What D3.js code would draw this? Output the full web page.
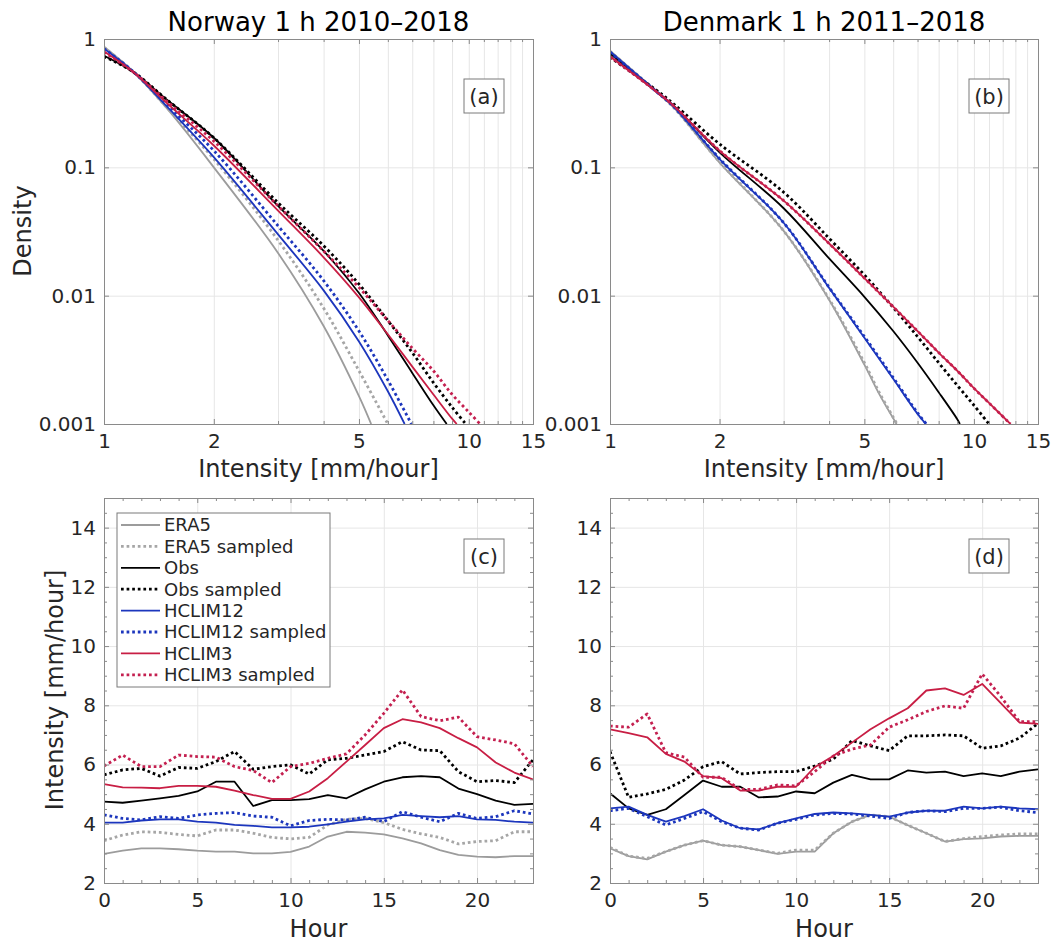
<!DOCTYPE html>
<html><head><meta charset="utf-8">
<script src="https://cdn.jsdelivr.net/npm/d3@7"></script>
<style>
body{margin:0;background:#fff}
text{font-family:"DejaVu Sans",sans-serif}
</style>
</head><body><svg id="c" width="1056" height="943"></svg>
<script>
// ---------------- DATA ----------------
const seriesNames = ["ERA5","ERA5 sampled","Obs","Obs sampled","HCLIM12","HCLIM12 sampled","HCLIM3","HCLIM3 sampled"];
const panelTitles = ["Norway 1 h 2010\u20132018","Denmark 1 h 2011\u20132018"];
const panelTags = ["(a)","(b)","(c)","(d)"];

// (a) Norway density vs intensity  [intensity mm/h, density]
const norPdfERA5   = [[1,0.87],[1.2,0.56],[1.5,0.28],[2,0.10],[3,0.0215],[4,0.0058],[5,0.00165],[5.4,0.001]];
const norPdfERA5s  = [[1,0.86],[1.2,0.56],[1.5,0.285],[2,0.116],[3,0.027],[4,0.0080],[5,0.0026],[6.0,0.001]];
const norPdfObs    = [[1,0.74],[1.2,0.556],[1.5,0.33],[2,0.17],[3,0.050],[4,0.0223],[5,0.0105],[6,0.0049],[7,0.0025],[8,0.0014],[8.7,0.001]];
const norPdfObsS   = [[1,0.73],[1.2,0.556],[1.5,0.33],[2,0.17],[3,0.053],[4,0.0245],[5,0.0123],[6,0.0064],[7,0.0036],[8,0.0021],[9,0.00135],[9.81,0.001]];
const norPdfH12    = [[1,0.84],[1.2,0.56],[1.5,0.29],[2,0.12],[3,0.030],[4,0.011],[5,0.0044],[6,0.0018],[6.67,0.001]];
const norPdfH12S   = [[1,0.84],[1.2,0.56],[1.5,0.30],[2,0.135],[3,0.035],[4,0.0131],[5,0.0053],[6,0.0022],[6.96,0.001]];
const norPdfH3     = [[1,0.80],[1.2,0.556],[1.5,0.31],[2,0.148],[3,0.046],[4,0.0199],[5,0.0097],[6,0.0050],[7,0.0028],[8,0.0017],[9,0.0011],[9.27,0.001]];
const norPdfH3S    = [[1,0.79],[1.2,0.556],[1.5,0.32],[2,0.16],[3,0.050],[4,0.0223],[5,0.0116],[6,0.0064],[7,0.0039],[8,0.0026],[9,0.0017],[10,0.00124],[10.74,0.001]];

// (b) Denmark density vs intensity
const denPdfERA5   = [[1,0.81],[1.34,0.39],[1.5,0.29],[2,0.109],[3,0.032],[4,0.0093],[5,0.0029],[5.5,0.0017],[6.13,0.001]];
const denPdfERA5s  = [[1,0.80],[1.34,0.39],[1.5,0.29],[2,0.110],[3,0.032],[4,0.0094],[5,0.0030],[5.5,0.00175],[6.15,0.001]];
const denPdfObs    = [[1,0.77],[1.34,0.39],[1.5,0.30],[2,0.131],[3,0.048],[4,0.0195],[5,0.0098],[6,0.0053],[7,0.0030],[8,0.00177],[9,0.00109],[9.15,0.001]];
const denPdfObsS   = [[1,0.72],[1.34,0.40],[1.5,0.31],[2,0.152],[3,0.064],[4,0.028],[5,0.0145],[6,0.0081],[7,0.0048],[8,0.0030],[9,0.0020],[10,0.0014],[11.0,0.001]];
const denPdfH12    = [[1,0.80],[1.34,0.39],[1.5,0.295],[2,0.116],[3,0.037],[4,0.0115],[5,0.0047],[6,0.00225],[7,0.0012],[7.38,0.001]];
const denPdfH12S   = [[1,0.79],[1.34,0.39],[1.5,0.295],[2,0.117],[3,0.037],[4,0.0116],[5,0.0048],[6,0.0023],[7,0.00122],[7.40,0.001]];
const denPdfH3     = [[1,0.73],[1.34,0.39],[1.5,0.30],[2,0.135],[3,0.055],[4,0.0255],[5,0.0137],[6,0.0082],[7,0.0053],[8,0.0036],[9,0.0026],[10,0.0019],[11,0.00146],[12.6,0.001]];
const denPdfH3S    = [[1,0.73],[1.34,0.39],[1.5,0.30],[2,0.135],[3,0.055],[4,0.0255],[5,0.0137],[6,0.0082],[7,0.0053],[8,0.0036],[9,0.0026],[10,0.0019],[11,0.00146],[12.6,0.001]];

// (c),(d) diurnal cycle of intensity [mm/hour] by hour
const hours = [0,1,2,3,4,5,6,7,8,9,10,11,12,13,14,15,16,17,18,19,20,21,22,23];
const norERA5  = [2.98,3.09,3.17,3.17,3.14,3.09,3.06,3.06,3.00,3.00,3.05,3.23,3.57,3.73,3.70,3.64,3.51,3.34,3.11,2.95,2.89,2.87,2.91,2.91];
const norERA5s = [3.43,3.62,3.73,3.71,3.64,3.59,3.79,3.79,3.68,3.54,3.49,3.54,3.96,4.15,4.18,4.04,3.81,3.66,3.54,3.32,3.40,3.43,3.73,3.73];
const norObs   = [4.75,4.71,4.78,4.86,4.94,5.09,5.42,5.42,4.60,4.80,4.80,4.83,4.97,4.86,5.16,5.42,5.57,5.61,5.57,5.19,5.00,4.78,4.64,4.67];
const norObsS  = [5.65,5.82,5.87,5.61,5.90,5.87,6.10,6.44,5.84,5.93,5.99,5.68,6.16,6.21,6.32,6.44,6.77,6.49,6.47,5.76,5.42,5.46,5.39,6.16];
const norH12   = [4.04,4.04,4.11,4.15,4.15,4.07,4.04,3.96,3.93,3.88,3.88,3.90,3.98,4.07,4.15,4.18,4.30,4.26,4.22,4.26,4.15,4.13,4.07,4.04];
const norH12S  = [4.30,4.18,4.13,4.24,4.18,4.30,4.35,4.38,4.26,4.22,3.93,4.11,4.15,4.13,4.22,4.07,4.41,4.22,4.07,4.35,4.18,4.24,4.44,4.33];
const norH3    = [5.34,5.23,5.22,5.20,5.28,5.28,5.25,5.12,4.97,4.84,4.84,5.09,5.54,6.10,6.66,7.23,7.53,7.42,7.23,6.89,6.58,6.07,5.73,5.50];
const norH3S   = [5.95,6.32,5.93,5.93,6.32,6.27,6.25,5.93,5.80,5.39,5.93,6.04,6.21,6.36,7.00,7.73,8.52,7.62,7.48,7.60,6.94,6.83,6.70,5.93];

const denERA5  = [3.17,2.91,2.80,3.06,3.28,3.43,3.28,3.23,3.11,2.98,3.06,3.06,3.68,4.07,4.30,4.24,3.95,3.68,3.40,3.48,3.51,3.57,3.59,3.59];
const denERA5s = [3.20,2.91,2.83,3.06,3.28,3.43,3.28,3.23,3.11,3.00,3.11,3.11,3.68,4.07,4.30,4.24,3.95,3.68,3.40,3.50,3.57,3.62,3.66,3.66];
const denObs   = [5.03,4.52,4.30,4.49,4.97,5.46,5.25,5.25,4.89,4.92,5.09,5.03,5.39,5.65,5.50,5.50,5.80,5.73,5.76,5.61,5.70,5.61,5.76,5.84];
const denObsS  = [6.44,4.89,5.01,5.16,5.48,5.93,6.10,5.68,5.73,5.76,5.76,5.95,6.18,6.81,6.63,6.47,6.97,6.97,7.00,6.97,6.55,6.63,6.89,7.39];
const denH12   = [4.52,4.58,4.30,4.07,4.26,4.49,4.11,3.85,3.81,4.02,4.18,4.33,4.38,4.35,4.30,4.24,4.38,4.44,4.44,4.58,4.52,4.58,4.52,4.49];
const denH12S  = [4.44,4.52,4.24,3.96,4.18,4.41,4.07,3.85,3.79,4.02,4.15,4.30,4.35,4.33,4.26,4.18,4.38,4.44,4.41,4.52,4.52,4.56,4.44,4.38];
const denH3    = [7.19,7.06,6.92,6.36,6.10,5.61,5.54,5.12,5.12,5.25,5.25,5.91,6.29,6.74,7.19,7.56,7.90,8.50,8.57,8.35,8.72,8.07,7.42,7.37];
const denH3S   = [7.30,7.26,7.71,6.40,6.25,5.57,5.57,5.16,5.16,5.31,5.28,5.76,6.29,6.52,6.66,7.26,7.51,7.79,7.98,7.90,9.06,8.30,7.45,7.45];

// tick values / labels
const pdfXTicks = [1,2,5,10,15];
const pdfXTickLabels = ["1","2","5","10","15"];
const pdfXMinor = [3,4,6,7,8,9,11,12,13,14];
const pdfXGrid = [2,3,4,5,6,7,8,9,10,11,12,13,14];
const pdfYTicks = [0.001,0.01,0.1,1];
const pdfYTickLabels = ["0.001","0.01","0.1","1"];
const hourTicks = [0,5,10,15,20];
const intTicks = [2,4,6,8,10,12,14];

// ---------------- STYLE ----------------
const styles = [
  {color:"#9c9c9c", dot:false},
  {color:"#a6a6a6", dot:true},
  {color:"#000000", dot:false},
  {color:"#000000", dot:true},
  {color:"#1c36bd", dot:false},
  {color:"#1c36bd", dot:true},
  {color:"#c81e44", dot:false},
  {color:"#c42050", dot:true}
];
const FONT = "DejaVu Sans";
const AX = "#262626";
const BOX = "#8a8a8a";
const GRID = "#e6e6e6";

const svg = d3.select("#c");
svg.append("rect").attr("width",1056).attr("height",943).attr("fill","#fff");

const TOP_T = 39, TOP_B = 424, BOT_T = 498, BOT_B = 883;
const COLS = [[104,533],[610,1038]];

function styleLine(p, s){
  p.attr("fill","none").attr("stroke",s.color)
   .attr("stroke-width", s.dot ? 2.8 : 1.8)
   .attr("stroke-dasharray", s.dot ? "2.7 2.9" : null)
   .attr("stroke-linejoin","round");
}

function grid(g, axisGen, transform){
  g.append("g").attr("transform",transform).call(axisGen)
   .call(s=>{s.select(".domain").remove(); s.selectAll("line").attr("stroke",GRID).attr("stroke-width",1); s.selectAll("text").remove();});
}

function ticks(g, axisGen, transform, size){
  const a = g.append("g").attr("transform",transform).call(axisGen);
  a.select(".domain").remove();
  a.selectAll("line").attr("stroke",BOX).attr("stroke-width",1);
  a.selectAll("text").attr("fill",AX).attr("font-family",FONT).attr("font-size",size||20);
  return a;
}

function panelTag(g, cx, cy, txt){
  g.append("rect").attr("x",cx-20).attr("y",cy-17).attr("width",40).attr("height",34)
    .attr("fill","#fff").attr("stroke","#7a7a7a").attr("stroke-width",1);
  g.append("text").attr("x",cx).attr("y",cy).attr("dy","0.36em").attr("text-anchor","middle")
    .attr("font-size",21).attr("fill",AX).text(txt);
}

function frame(g, L, R, T, B, id){
  g.append("defs").append("clipPath").attr("id",id).append("rect")
    .attr("x",L).attr("y",T).attr("width",R-L).attr("height",B-T);
}

// ---------- upper panels ----------
function drawPdf(col, title, tag, series){
  const [L,R] = COLS[col], T = TOP_T, B = TOP_B;
  const g = svg.append("g");
  const x = d3.scaleLog().domain([1,15]).range([L,R]);
  const y = d3.scaleLog().domain([0.001,1]).range([B,T]);
  const id = "clipU"+col;
  frame(g,L,R,T,B,id);
  grid(g, d3.axisBottom(x).tickValues(pdfXGrid).tickSize(-(B-T)).tickFormat(""), `translate(0,${B})`);
  grid(g, d3.axisLeft(y).tickValues([0.01,0.1]).tickSize(-(R-L)).tickFormat(""), `translate(${L},0)`);
  const line = d3.line().x(d=>x(d[0])).y(d=>y(d[1])).curve(d3.curveCatmullRom.alpha(0.5));
  const lg = g.append("g").attr("clip-path",`url(#${id})`);
  series.forEach((s,i)=>{ lg.append("path").datum(s).attr("d",line).call(p=>styleLine(p,styles[i])); });
  g.append("rect").attr("x",L).attr("y",T).attr("width",R-L).attr("height",B-T)
    .attr("fill","none").attr("stroke",BOX).attr("stroke-width",1).attr("shape-rendering","crispEdges");
  ticks(g, d3.axisBottom(x).tickValues(pdfXTicks).tickSize(-5).tickPadding(10).tickFormat((d,i)=>pdfXTickLabels[i]), `translate(0,${B})`);
  ticks(g, d3.axisTop(x).tickValues(pdfXTicks).tickSize(-5).tickFormat(""), `translate(0,${T})`);
  ticks(g, d3.axisBottom(x).tickValues(pdfXMinor).tickSize(-3).tickFormat(""), `translate(0,${B})`);
  ticks(g, d3.axisTop(x).tickValues(pdfXMinor).tickSize(-3).tickFormat(""), `translate(0,${T})`);
  ticks(g, d3.axisLeft(y).tickValues(pdfYTicks).tickSize(-5).tickPadding(8).tickFormat((d,i)=>pdfYTickLabels[i]), `translate(${L},0)`);
  ticks(g, d3.axisRight(y).tickValues(pdfYTicks).tickSize(-5).tickFormat(""), `translate(${R},0)`);
  g.append("text").attr("x",(L+R)/2).attr("y",31).attr("text-anchor","middle")
    .attr("font-size",26).attr("fill","#000").text(title);
  g.append("text").attr("x",(L+R)/2).attr("y",477).attr("text-anchor","middle")
    .attr("font-size",24).attr("fill",AX).text("Intensity [mm/hour]");
  panelTag(g, R-49, 96, tag);
  return g;
}

// ---------- lower panels ----------
function drawDiurnal(col, tag, series, withLegend){
  const [L,R] = COLS[col], T = BOT_T, B = BOT_B;
  const g = svg.append("g");
  const x = d3.scaleLinear().domain([0,23]).range([L,R]);
  const y = d3.scaleLinear().domain([2,15]).range([B,T]);
  const id = "clipL"+col;
  frame(g,L,R,T,B,id);
  grid(g, d3.axisBottom(x).tickValues(hourTicks.slice(1)).tickSize(-(B-T)).tickFormat(""), `translate(0,${B})`);
  grid(g, d3.axisLeft(y).tickValues(intTicks.slice(1)).tickSize(-(R-L)).tickFormat(""), `translate(${L},0)`);
  const line = d3.line().x((d,i)=>x(hours[i])).y(d=>y(d));
  const lg = g.append("g").attr("clip-path",`url(#${id})`);
  series.forEach((s,i)=>{ lg.append("path").datum(s).attr("d",line).call(p=>styleLine(p,styles[i])); });
  g.append("rect").attr("x",L).attr("y",T).attr("width",R-L).attr("height",B-T)
    .attr("fill","none").attr("stroke",BOX).attr("stroke-width",1).attr("shape-rendering","crispEdges");
  const minorH = hours.filter(h=>h%5!==0);
  const minorV = d3.range(2,15.01,0.5).filter(v=>v%2!==0);
  ticks(g, d3.axisBottom(x).tickValues(hourTicks).tickSize(-5).tickPadding(10).tickFormat(d3.format("d")), `translate(0,${B})`);
  ticks(g, d3.axisTop(x).tickValues(hourTicks).tickSize(-5).tickFormat(""), `translate(0,${T})`);
  ticks(g, d3.axisBottom(x).tickValues(minorH).tickSize(-3).tickFormat(""), `translate(0,${B})`);
  ticks(g, d3.axisTop(x).tickValues(minorH).tickSize(-3).tickFormat(""), `translate(0,${T})`);
  ticks(g, d3.axisLeft(y).tickValues(intTicks).tickSize(-5).tickPadding(8).tickFormat(d3.format("d")), `translate(${L},0)`);
  ticks(g, d3.axisRight(y).tickValues(intTicks).tickSize(-5).tickFormat(""), `translate(${R},0)`);
  ticks(g, d3.axisLeft(y).tickValues(minorV).tickSize(-3).tickFormat(""), `translate(${L},0)`);
  ticks(g, d3.axisRight(y).tickValues(minorV).tickSize(-3).tickFormat(""), `translate(${R},0)`);
  g.append("text").attr("x",(L+R)/2).attr("y",937).attr("text-anchor","middle")
    .attr("font-size",24).attr("fill",AX).text("Hour");
  panelTag(g, R-49, 556, tag);
  if (withLegend){
    const lx = L+13, ly = 513, rowH = 21.4;
    g.append("rect").attr("x",lx).attr("y",ly).attr("width",213).attr("height",174)
      .attr("fill","#fff").attr("stroke","#7a7a7a").attr("stroke-width",1);
    seriesNames.forEach((n,i)=>{
      const yy = ly + 12 + i*rowH;
      g.append("path").attr("d",`M${lx+4},${yy}H${lx+43}`).call(p=>styleLine(p,styles[i]));
      g.append("text").attr("x",lx+47).attr("y",yy).attr("dy","0.36em")
        .attr("font-size",18).attr("fill",AX).text(n);
    });
  }
}

drawPdf(0, panelTitles[0], panelTags[0], [norPdfERA5,norPdfERA5s,norPdfObs,norPdfObsS,norPdfH12,norPdfH12S,norPdfH3,norPdfH3S]);
drawPdf(1, panelTitles[1], panelTags[1], [denPdfERA5,denPdfERA5s,denPdfObs,denPdfObsS,denPdfH12,denPdfH12S,denPdfH3,denPdfH3S]);
drawDiurnal(0, panelTags[2], [norERA5,norERA5s,norObs,norObsS,norH12,norH12S,norH3,norH3S], true);
drawDiurnal(1, panelTags[3], [denERA5,denERA5s,denObs,denObsS,denH12,denH12S,denH3,denH3S], false);

// y-axis titles
svg.append("text").attr("transform","translate(31,231) rotate(-90)").attr("text-anchor","middle")
  .attr("font-size",24).attr("fill",AX).text("Density");
svg.append("text").attr("transform","translate(63,690) rotate(-90)").attr("text-anchor","middle")
  .attr("font-size",24).attr("fill",AX).text("Intensity [mm/hour]");
</script>
</body></html>
